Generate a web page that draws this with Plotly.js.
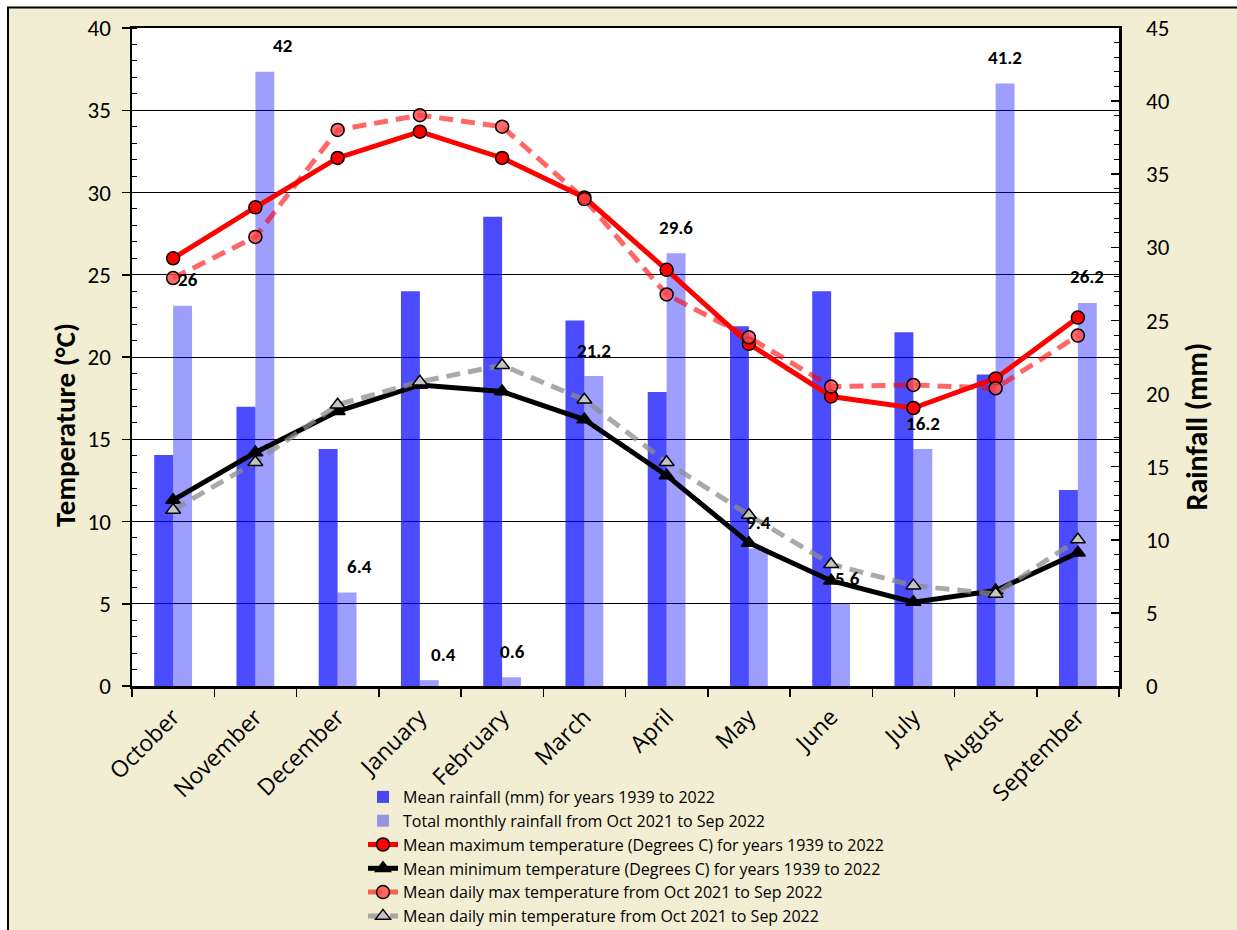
<!DOCTYPE html>
<html><head><meta charset="utf-8">
<script src="https://cdn.plot.ly/plotly-3.0.1.min.js"></script>
<style>html,body{margin:0;padding:0;background:#fff}</style>
</head><body><div id="chart" style="width:1237px;height:930px"></div>
<script>
const months = ["October","November","December","January","February","March","April","May","June","July","August","September"];
const rainMean = [15.8,19.1,16.2,27.0,32.1,25.0,20.1,24.6,27.0,24.2,21.3,13.4];
const rainTotal = [26,42,6.4,0.4,0.6,21.2,29.6,9.4,5.6,16.2,41.2,26.2];
const tMaxLongTerm = [26.0,29.1,32.1,33.7,32.1,29.7,25.3,20.8,17.6,16.9,18.7,22.4];
const tMinLongTerm = [11.3,14.2,16.7,18.3,17.9,16.2,12.8,8.7,6.4,5.1,5.8,8.1];
const tMaxYear = [24.8,27.3,33.8,34.7,34.0,29.6,23.8,21.2,18.2,18.3,18.1,21.3];
const tMinYear = [10.7,13.6,17.1,18.5,19.5,17.4,13.6,10.4,7.4,6.1,5.6,8.9];
const seriesNames = [
  "Mean rainfall (mm) for years 1939 to 2022",
  "Total monthly rainfall from Oct 2021 to Sep 2022",
  "Mean maximum temperature (Degrees C) for years 1939 to 2022",
  "Mean minimum temperature (Degrees C) for years 1939 to 2022",
  "Mean daily max temperature from Oct 2021 to Sep 2022",
  "Mean daily min temperature from Oct 2021 to Sep 2022"
];
// style-only horizontal nudges for the data labels (px)
const labelNudge = [5,18,12,14,1,0,0,0,7,0,0,0];

const FONT = "Carlito, Lato, 'Open Sans', sans-serif";
const FONT2 = "'Open Sans', sans-serif";
const L = 132, R = 1119, T = 28, B = 686;
const PW = R - L, PH = B - T;

const traces = [
  {type:'bar', x:months, y:rainMean, name:seriesNames[0], yaxis:'y',
   marker:{color:'rgba(0,0,255,0.70)'}},
  {type:'bar', x:months, y:rainTotal, name:seriesNames[1], yaxis:'y',
   marker:{color:'rgba(0,0,255,0.38)'}},
  {type:'scatter', mode:'lines+markers', x:months, y:tMaxLongTerm, name:seriesNames[2], yaxis:'y2',
   line:{color:'#FF0000', width:5},
   marker:{symbol:'circle', size:13, color:'#FF0000', line:{color:'#000', width:1.5}}},
  {type:'scatter', mode:'lines+markers', x:months, y:tMinLongTerm, name:seriesNames[3], yaxis:'y2',
   line:{color:'#000000', width:5},
   marker:{symbol:'triangle-up', size:13, color:'#000', line:{color:'#000', width:1.5}}},
  {type:'scatter', mode:'lines+markers', x:months, y:tMaxYear, name:seriesNames[4], yaxis:'y2',
   line:{color:'rgba(255,0,0,0.6)', width:5, dash:'14px,8px'},
   marker:{symbol:'circle', size:13, color:'rgba(255,70,70,0.8)', line:{color:'#000', width:1.5}}},
  {type:'scatter', mode:'lines+markers', x:months, y:tMinYear, name:seriesNames[5], yaxis:'y2',
   line:{color:'rgba(140,140,140,0.75)', width:5, dash:'14px,8px'},
   marker:{symbol:'triangle-up', size:13, color:'#C4C4C4', line:{color:'#000', width:1.5}}}
];

const annotations = rainTotal.map((v,i)=>({
  x: months[i], y: v, xref:'x', yref:'y', showarrow:false,
  text: String(v), xshift: 9.5 + labelNudge[i], yshift: 26,
  font:{family:FONT, size:19, color:'#000', weight:'bold'}
}));
annotations.push({
  xref:'paper', yref:'paper', x:(45-L)/PW, y:(B-425)/PH, showarrow:false,
  text:'<b>Temperature (°C)</b>', textangle:-90,
  font:{family:FONT, size:29, color:'#000'}
});
annotations.push({
  xref:'paper', yref:'paper', x:(1216-L)/PW, y:(B-427)/PH, showarrow:false,
  text:'<b>Rainfall (mm)</b>', textangle:-90,
  font:{family:FONT, size:30, color:'#000'}
});

const layout = {
  width:1237, height:930,
  margin:{l:L, r:1237-R, t:T, b:930-B, autoexpand:false},
  paper_bgcolor:'#ffffff', plot_bgcolor:'#ffffff',
  font:{family:FONT, color:'#000'},
  barmode:'group', bargap:0.54, bargroupgap:0,
  showlegend:true,
  legend:{x:(363-L)/PW, y:(B-780)/PH, xanchor:'left', yanchor:'top',
          bgcolor:'rgba(0,0,0,0)', font:{family:FONT2, size:16, color:'#000'},
          tracegroupgap:0, traceorder:'normal'},
  xaxis:{type:'category', range:[-0.5,11.5], tickson:'boundaries', ticks:'outside', ticklen:8,
         tickwidth:1.5, tickcolor:'#000', showline:true, mirror:true, linecolor:'#000', linewidth:2.5,
         tickangle:-45, tickfont:{family:FONT2, size:23, color:'#000'}, ticklabelstandoff:6,
         showgrid:false, fixedrange:true},
  yaxis:{range:[0,45], side:'right', dtick:5, showgrid:false, zeroline:false,
         showline:true, linecolor:'#000', linewidth:2.5, ticks:'inside', ticklen:8, tickwidth:1.5, tickcolor:'#000',
         minor:{ticks:'inside', dtick:1, ticklen:5, tickwidth:1, tickcolor:'#000', showgrid:false},
         tickfont:{family:FONT, size:23, color:'#000'}, ticklabelstandoff:20, fixedrange:true},
  yaxis2:{range:[0,40], overlaying:'y', side:'left', dtick:5, showgrid:true, gridcolor:'#000', gridwidth:1,
          zeroline:false, showline:true, linecolor:'#000', linewidth:2.5, ticks:'outside', ticklen:8,
          tickwidth:1.5, tickcolor:'#000',
          minor:{ticks:'inside', dtick:1, ticklen:5, tickwidth:1, tickcolor:'#000', showgrid:false},
          tickfont:{family:FONT, size:23, color:'#000'}, ticklabelstandoff:6, fixedrange:true},
  shapes:[
    {type:'rect', xref:'paper', yref:'paper', layer:'below',
     x0:(8-L)/PW, x1:(1260-L)/PW, y0:(B-960)/PH, y1:1+(T-7.5)/PH,
     fillcolor:'#F2EED3', line:{color:'#000', width:2}},
    {type:'rect', xref:'paper', yref:'paper', layer:'below',
     x0:0, x1:1, y0:0, y1:1, fillcolor:'#ffffff', line:{width:0}}
  ],
  annotations: annotations
};

Plotly.newPlot('chart', traces, layout, {displayModeBar:false, staticPlot:true});
</script></body></html>
